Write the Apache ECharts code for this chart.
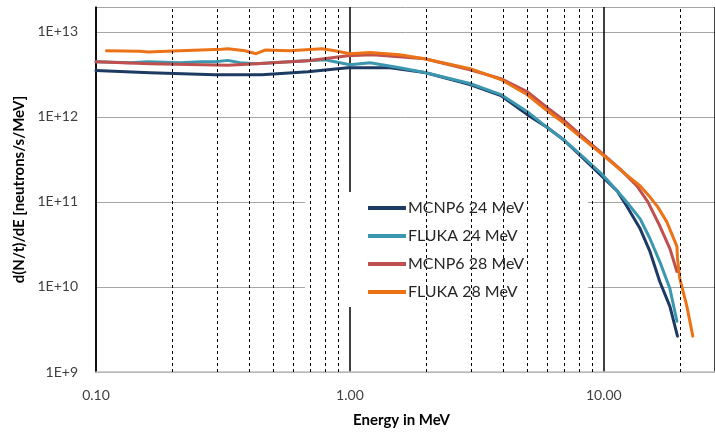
<!DOCTYPE html>
<html>
<head>
<meta charset="utf-8">
<script src="https://cdn.jsdelivr.net/npm/echarts@6/dist/echarts.min.js"></script>
<style>html,body{margin:0;padding:0;background:#fff}#c{width:715px;height:433px}</style>
</head>
<body>
<div id="c"></div>
<script>
// Energy (MeV) and d(N/t)/dE values
const mcnp24E = [0.1, 0.163, 0.294, 0.45, 0.683, 0.982, 1.44, 1.97, 2.97, 3.93, 4.98, 5.97, 6.9, 8.05, 9.82, 11.3, 12.3, 13.9, 15.2, 16.6, 18.2, 19.5];
const mcnp24V = [3.50e12, 3.31e12, 3.12e12, 3.14e12, 3.40e12, 3.79e12, 3.79e12, 3.32e12, 2.40e12, 1.78e12, 1.07e12, 7.54e11, 5.46e11, 3.55e11, 2.01e11, 1.34e11, 8.98e10, 4.83e10, 2.60e10, 1.16e10, 5.92e9, 2.64e9];

const fluka24E = [0.1, 0.136, 0.16, 0.214, 0.26, 0.294, 0.331, 0.369, 0.427, 0.53, 0.797, 0.913, 1.0, 1.2, 1.57, 1.97, 2.97, 3.93, 4.98, 5.97, 6.9, 8.05, 9.82, 11.3, 12.3, 13.9, 15.2, 16.6, 18.2, 19.4];
const fluka24V = [4.46e12, 4.34e12, 4.45e12, 4.34e12, 4.45e12, 4.46e12, 4.62e12, 4.34e12, 4.22e12, 4.40e12, 4.71e12, 4.34e12, 4.11e12, 4.34e12, 3.79e12, 3.32e12, 2.47e12, 1.83e12, 1.16e12, 7.54e11, 5.46e11, 3.64e11, 2.13e11, 1.34e11, 1.0e11, 6.33e10, 3.69e10, 1.99e10, 9.6e9, 3.95e9];

const mcnp28E = [0.1, 0.163, 0.331, 0.427, 0.683, 0.982, 1.23, 1.97, 2.97, 3.93, 4.98, 5.97, 6.9, 8.05, 9.82, 11.6, 13.5, 14.9, 16.6, 18.2, 19.4];
const mcnp28V = [4.46e12, 4.22e12, 4.04e12, 4.22e12, 4.58e12, 5.24e12, 5.38e12, 4.83e12, 3.59e12, 2.82e12, 1.99e12, 1.29e12, 9.35e11, 6.24e11, 3.75e11, 2.43e11, 1.54e11, 1.0e11, 5.24e10, 2.82e10, 1.52e10];

const fluka28E = [0.11, 0.149, 0.16, 0.214, 0.313, 0.331, 0.386, 0.427, 0.463, 0.58, 0.776, 0.873, 1.0, 1.2, 1.57, 1.97, 2.97, 3.93, 4.98, 5.97, 6.9, 8.05, 9.82, 11.9, 13.9, 15.2, 16.3, 17.7, 19.2, 19.4, 19.5, 19.9, 21.2, 22.4];
const fluka28V = [6.0e12, 5.93e12, 5.8e12, 6.0e12, 6.24e12, 6.33e12, 6.0e12, 5.53e12, 6.1e12, 6.0e12, 6.33e12, 6.0e12, 5.53e12, 5.73e12, 5.38e12, 4.83e12, 3.69e12, 2.75e12, 1.83e12, 1.19e12, 8.63e11, 5.91e11, 3.64e11, 2.24e11, 1.54e11, 1.14e11, 8.74e10, 5.83e10, 3.23e10, 2.98e10, 2.15e10, 1.26e10, 6.08e9, 2.64e9];

const seriesNames = ['MCNP6 24 MeV', 'FLUKA 24 MeV', 'MCNP6 28 MeV', 'FLUKA 28 MeV'];
const minorX = [0.2, 0.3, 0.4, 0.5, 0.6, 0.7, 0.8, 0.9, 2, 3, 4, 5, 6, 7, 8, 9, 20];

const colors = ['#1d3a63', '#3b97b0', '#c0504d', '#ec7216'];
const pair = (xs, ys) => xs.map((x, i) => [x, ys[i]]);
const datasets = [pair(mcnp24E, mcnp24V), pair(fluka24E, fluka24V), pair(mcnp28E, mcnp28V), pair(fluka28E, fluka28V)];

const FONT = 'Lato';
const chart = echarts.init(document.getElementById('c'), null, {renderer: 'canvas'});

const series = [{
  type: 'line', name: '_minor', data: [], z: 1, silent: true,
  markLine: {
    silent: true, symbol: 'none', animation: false,
    label: {show: false},
    lineStyle: {color: '#000', width: 1, type: [3, 3]},
    data: minorX.map(v => ({xAxis: v}))
  }
}];
seriesNames.forEach((n, i) => {
  series.push({
    type: 'line', name: n, data: datasets[i], showSymbol: false, symbol: 'none',
    z: 3, smooth: false,
    lineStyle: {color: colors[i], width: 3, join: 'round', cap: 'round'},
    itemStyle: {color: colors[i]}
  });
});

chart.setOption({
  animation: false,
  backgroundColor: '#fff',
  grid: {left: 96, right: 0, top: 7, bottom: 59, containLabel: false},
  graphic: [{
    type: 'rect', left: 305, top: 192, z: 2, silent: true,
    shape: {width: 283, height: 115},
    style: {fill: '#fff'}
  }],
  xAxis: {
    type: 'log', logBase: 10, min: 0.1, max: 27.4,
    name: 'Energy in MeV', nameLocation: 'middle', nameGap: 41,
    nameTextStyle: {fontFamily: FONT, fontWeight: 'bold', fontSize: 15, color: '#000', padding: [0, 8, 0, 0]},
    axisLine: {show: true, lineStyle: {color: '#bfbfbf', width: 1.5}},
    axisTick: {show: false},
    axisLabel: {fontFamily: FONT, fontSize: 14, color: '#404040', margin: 16,
      showMaxLabel: false,
      formatter: v => { const l = Math.log10(v); return Math.abs(l - Math.round(l)) < 1e-6 ? v.toFixed(2) : ''; }},
    splitLine: {show: true, lineStyle: {color: '#000', width: 1.5}}
  },
  yAxis: {
    type: 'log', logBase: 10, min: 1e9, max: 1.96e13,
    name: 'd(N/t)/dE [neutrons/s/MeV]', nameLocation: 'middle', nameGap: 68,
    nameTextStyle: {fontFamily: FONT, fontWeight: 'bold', fontSize: 15, color: '#000'},
    axisLine: {show: true, lineStyle: {color: '#000', width: 1.5}},
    axisTick: {show: false},
    axisLabel: {fontFamily: FONT, fontSize: 14, color: '#404040', margin: 18,
      showMaxLabel: false,
      formatter: v => { const l = Math.log10(v); return Math.abs(l - Math.round(l)) < 1e-6 ? '1E+' + Math.round(l) : ''; }},
    splitLine: {show: true, lineStyle: {color: '#a6a6a6', width: 1}}
  },
  legend: {
    data: seriesNames, orient: 'vertical', left: 368, top: 198, z: 6,
    padding: 0,
    icon: 'rect', itemWidth: 38, itemHeight: 4, itemGap: 8,
    textStyle: {fontFamily: FONT, fontSize: 16, color: '#262626', lineHeight: 20, padding: [0, 0, 0, -3]}
  },
  series: series
});
</script>
</body>
</html>
